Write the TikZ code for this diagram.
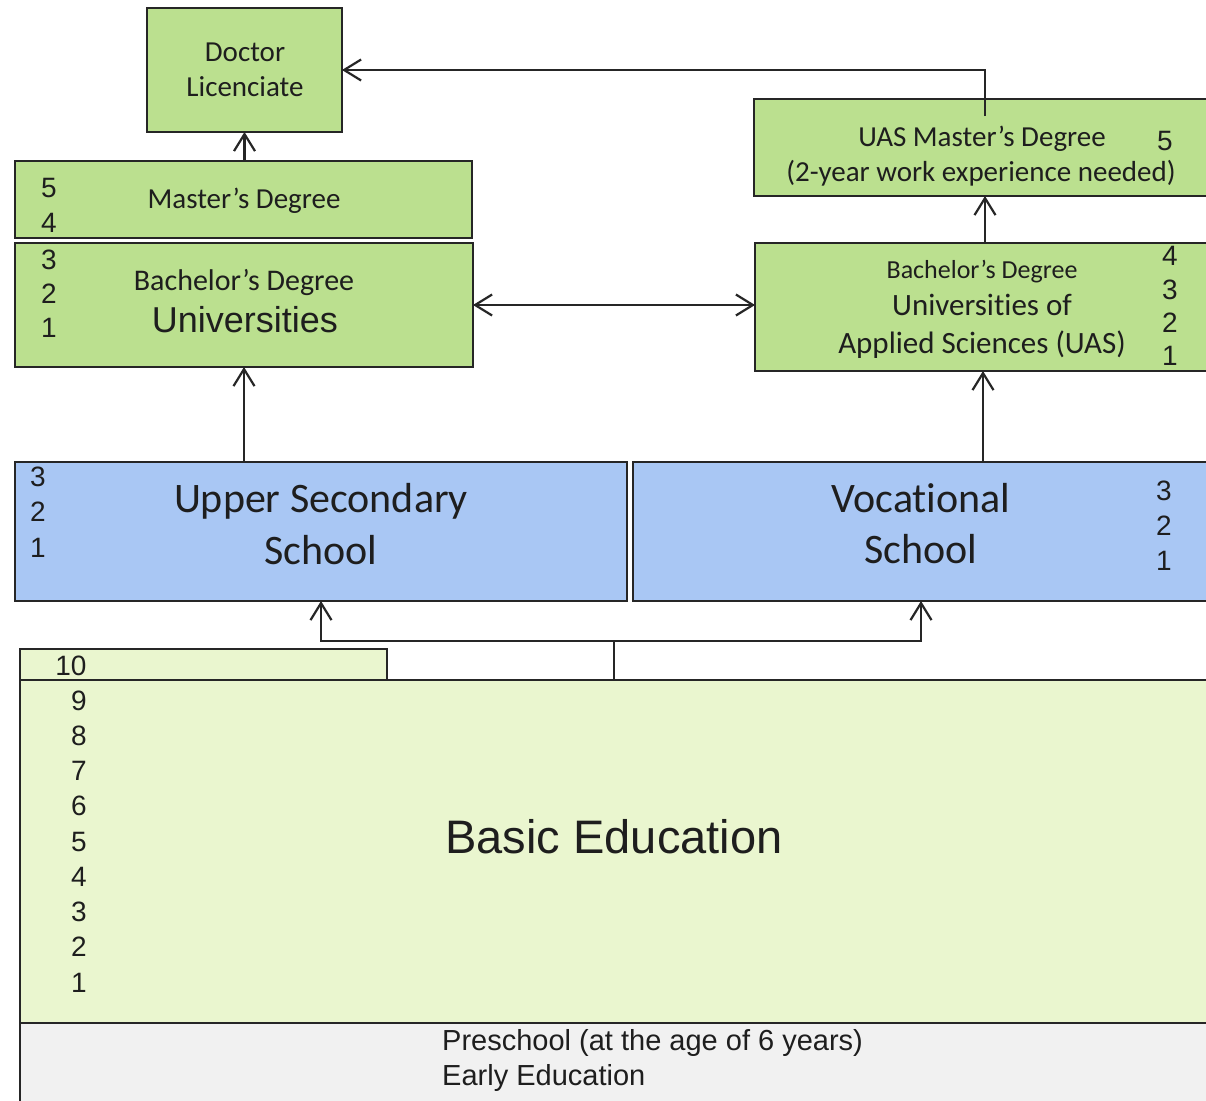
\documentclass[tikz,border=0pt]{standalone}
\usepackage{fontspec}
\setmainfont[Ligatures=NoCommon]{Carlito}
\newfontfamily\arialf{Liberation Sans}
\usetikzlibrary{arrows.meta,calc}
\definecolor{gr}{RGB}{187,224,143}
\definecolor{bl}{RGB}{169,199,244}
\definecolor{lg}{RGB}{234,246,207}
\definecolor{gy}{RGB}{241,241,241}
\definecolor{lc}{RGB}{38,38,38}
\definecolor{tc}{RGB}{30,30,30}
\tikzset{
  box/.style={draw=lc, line width=2pt, inner sep=0pt, outer sep=0pt, anchor=north west},
  cl/.style={font=\fontsize{#1}{#1}\selectfont, inner sep=0pt, text=tc, anchor=base},
  ar/.style={font=\arialf\fontsize{#1}{#1}\selectfont, inner sep=0pt, text=tc, anchor=base},
  tipb/.tip={Straight Barb[length=17pt,width=21pt,line width=2.2pt]},
  arr/.style={draw=lc, line width=2.3pt, -tipb},
  dbl/.style={draw=lc, line width=2.3pt, tipb-tipb},
  ln/.style={draw=lc, line width=2.3pt}
}
\begin{document}
\begin{tikzpicture}[x=1pt,y=-1pt]
\useasboundingbox (0,0) rectangle (1206,1100);
\clip (0,0) rectangle (1206,1100);
\fill[white] (0,0) rectangle (1206,1100);
% boxes
\node[box, fill=gr, minimum width=195pt, minimum height=124pt] (doc) at (147,8) {};
\node[box, fill=gr, minimum width=457pt, minimum height=77pt] (mas) at (15,161) {};
\node[box, fill=gr, minimum width=458pt, minimum height=124pt] (bach) at (15,243) {};
\node[box, fill=gr, minimum width=462pt, minimum height=97pt] (uasm) at (754,99) {};
\node[box, fill=gr, minimum width=456pt, minimum height=128pt] (uasb) at (755,243) {};
\node[box, fill=bl, minimum width=612pt, minimum height=139pt] (ups) at (15,462) {};
\node[box, fill=bl, minimum width=576pt, minimum height=139pt] (voc) at (633,462) {};
\node[box, fill=gy, minimum width=1190pt, minimum height=90pt] (pre) at (20,1023) {};
\node[box, fill=lg, minimum width=1188pt, minimum height=343pt] (basic) at (20,680) {};
\node[box, fill=lg, minimum width=367pt, minimum height=31pt] (ten) at (20,649) {};
% texts
\node[cl=29] (docT1) at (245,61.6) {Doctor};
\node[cl=29] (docT2) at (245,96.6) {Licenciate};
\node[cl=29] (masT) at (244,208.6) {Master’s Degree};
\node[cl=30] (bachT) at (244,290) {Bachelor’s Degree};
\node[ar=36] (bachU) at (245,332) {Universities};
\node[cl=29] (uasmT1) at (982,146.6) {UAS Master’s Degree};
\node[cl=29] (uasmT2) at (981,181.6) {(2-year work experience needed)};
\node[cl=26] (uasbT) at (982,278.6) {Bachelor’s Degree};
\node[cl=31] (uasbT1) at (982,315) {Universities of};
\node[cl=31] (uasbT2) at (982,353) {Applied Sciences (UAS)};
\node[cl=42] (upsT1) at (321,512) {Upper Secondary};
\node[cl=42] (upsT2) at (321,564) {School};
\node[cl=42] (vocT1) at (921,512) {Vocational};
\node[cl=42] (vocT2) at (921,563) {School};
\node[ar=47] (basicT) at (614,853) {Basic Education};
\node[ar=29, anchor=base west] (preT1) at (442,1050) {Preschool (at the age of 6 years)};
\node[ar=29, anchor=base west] (preT2) at (442,1085) {Early Education};
% numbers
\node[ar=28] (m5) at (49,197) {5};
\node[ar=28] (m4) at (49,232) {4};
\node[ar=28] (b3) at (49,269) {3};
\node[ar=28] (b2) at (49,303) {2};
\node[ar=28] (b1) at (49,337) {1};
\node[ar=28] (um5) at (1165,150) {5};
\node[ar=28] (ub4) at (1170,265) {4};
\node[ar=28] (ub3) at (1170,299) {3};
\node[ar=28] (ub2) at (1170,332) {2};
\node[ar=28] (ub1) at (1170,365) {1};
\node[ar=28] (u3) at (38,486) {3};
\node[ar=28] (u2) at (38,521) {2};
\node[ar=28] (u1) at (38,557) {1};
\node[ar=28] (v3) at (1164,500) {3};
\node[ar=28] (v2) at (1164,535) {2};
\node[ar=28] (v1) at (1164,570) {1};
\node[ar=28] (n10) at (71,675) {10};
\foreach \n in {1,...,9} {
  \node[ar=28] (bn\n) at (79,{710+(9-\n)*35.25}) {\n};
}
% connectors
\coordinate (um) at ($(uasm.north)+(0,17)$);
\draw[arr] (um) |- (doc.east);
\draw[arr] (doc.south |- mas.north) -- (doc.south);
\draw[arr] (bach.south |- ups.north) -- (bach.south);
\draw[dbl] (bach.east) -- (bach.east -| uasb.west);
\draw[arr] (uasm.south |- uasb.north) -- (uasm.south);
\draw[arr] (uasb.south |- voc.north) -- (uasb.south);
\coordinate (jn) at ($(basic.north)+(0,-39)$);
\draw[ln] (basic.north) -- (jn);
\draw[arr] (jn) -| (ups.south);
\draw[arr] (jn) -| (voc.south);
\end{tikzpicture}
\end{document}
